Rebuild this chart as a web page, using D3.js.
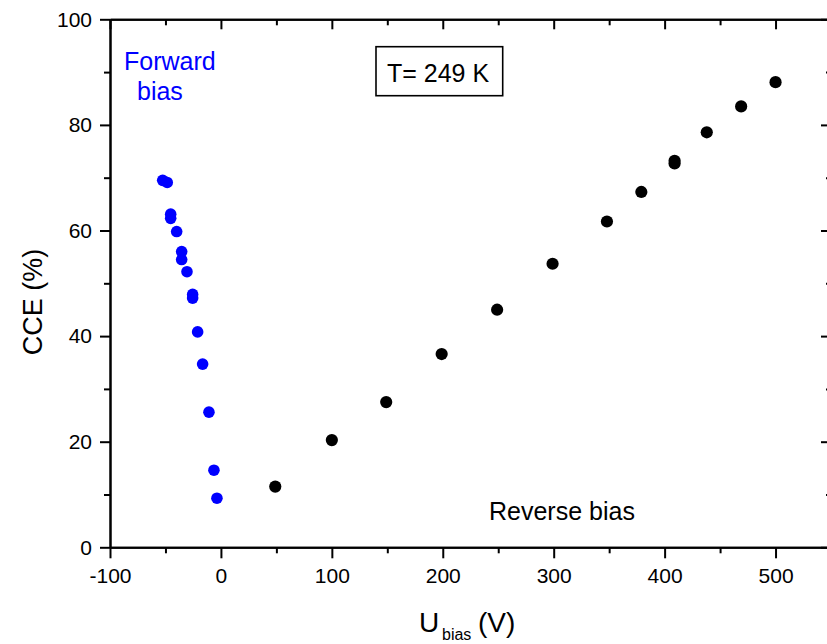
<!DOCTYPE html>
<html>
<head>
<meta charset="utf-8">
<script src="https://cdn.jsdelivr.net/npm/d3@7"></script>
<style>
  html, body { margin: 0; padding: 0; background: #fff; }
  svg { display: block; font-family: "Liberation Sans", Arial, sans-serif; }
</style>
</head>
<body>
<svg id="chart" width="827" height="644"></svg>
<script>
// Reverse bias (black)
const reverseU   = [49, 100, 149, 199, 249, 299, 348, 379, 409, 409, 438, 469, 500];
const reverseCCE = [11.5, 20.3, 27.5, 36.6, 45.0, 53.7, 61.7, 67.3, 72.7, 73.2, 78.6, 83.5, 88.1];
// Forward bias (blue)
const forwardU   = [-52.5, -48.4, -45.3, -45.3, -39.9, -35.4, -35.4, -30.6, -25.5, -25.5, -21, -16.5, -10.8, -6.3, -3.6];
const forwardCCE = [69.5, 69.1, 63.1, 62.3, 59.8, 56.0, 54.5, 52.2, 47.9, 47.2, 40.8, 34.7, 25.6, 14.6, 9.3];

const xMajor = [-100, 0, 100, 200, 300, 400, 500];
const xMinor = [-50, 50, 150, 250, 350, 450, 550];
const yMajor = [0, 20, 40, 60, 80, 100];
const yMinor = [10, 30, 50, 70, 90];

const svg = d3.select("#chart");
const L = 110, R = 831, T = 19.3, B = 547.3;

const x = d3.scaleLinear().domain([-100, 550]).range([L, R]);
const y = d3.scaleLinear().domain([0, 100]).range([B, T]);
const fmt = d => String(d);

function styleAxis(g) {
  g.selectAll("path.domain").attr("stroke", "#000").attr("stroke-width", 2);
  g.selectAll(".tick line").attr("stroke", "#000").attr("stroke-width", 2);
  g.selectAll(".tick text").attr("fill", "#000").style("font-size", "21px")
    .style("font-family", "'Liberation Sans', Arial, sans-serif");
}

// bottom
svg.append("g").attr("transform", `translate(0,${B})`)
  .call(d3.axisBottom(x).tickValues(xMajor).tickFormat(fmt).tickSize(11).tickPadding(10).tickSizeOuter(0))
  .call(styleAxis);
svg.append("g").attr("transform", `translate(0,${B})`)
  .call(d3.axisBottom(x).tickValues(xMinor).tickSize(6).tickFormat("").tickSizeOuter(0))
  .call(styleAxis);
// top
svg.append("g").attr("transform", `translate(0,${T})`)
  .call(d3.axisBottom(x).tickValues(xMajor).tickSize(10).tickFormat("").tickSizeOuter(0))
  .call(styleAxis);
svg.append("g").attr("transform", `translate(0,${T})`)
  .call(d3.axisBottom(x).tickValues(xMinor).tickSize(6).tickFormat("").tickSizeOuter(0))
  .call(styleAxis);
// left
svg.append("g").attr("transform", `translate(${L},0)`)
  .call(d3.axisLeft(y).tickValues(yMajor).tickFormat(fmt).tickSize(10).tickPadding(8).tickSizeOuter(0))
  .call(styleAxis);
svg.append("g").attr("transform", `translate(${L},0)`)
  .call(d3.axisLeft(y).tickValues(yMinor).tickSize(6).tickFormat("").tickSizeOuter(0))
  .call(styleAxis);
// right
svg.append("g").attr("transform", `translate(${R},0)`)
  .call(d3.axisLeft(y).tickValues(yMajor).tickSize(10).tickFormat("").tickSizeOuter(0))
  .call(styleAxis);
svg.append("g").attr("transform", `translate(${R},0)`)
  .call(d3.axisLeft(y).tickValues(yMinor).tickSize(5).tickFormat("").tickSizeOuter(0))
  .call(styleAxis);

// points
svg.append("g").selectAll("circle")
  .data(reverseU.map((u, i) => [u, reverseCCE[i]]))
  .join("circle")
  .attr("cx", d => x(d[0])).attr("cy", d => y(d[1])).attr("r", 6.1)
  .attr("fill", "#000");

svg.append("g").selectAll("circle")
  .data(forwardU.map((u, i) => [u, forwardCCE[i]]))
  .join("circle")
  .attr("cx", d => x(d[0])).attr("cy", d => y(d[1])).attr("r", 5.8)
  .attr("fill", "#0000ff");

// annotations
svg.append("text").attr("x", 124).attr("y", 70).attr("fill", "#0000ff")
  .style("font-size", "25px").text("Forward");
svg.append("text").attr("x", 137).attr("y", 100).attr("fill", "#0000ff")
  .style("font-size", "25px").text("bias");
svg.append("text").attr("x", 489).attr("y", 520).attr("fill", "#000")
  .style("font-size", "25px").text("Reverse bias");

svg.append("rect").attr("x", 376).attr("y", 46.7).attr("width", 126.7).attr("height", 49)
  .attr("fill", "none").attr("stroke", "#000").attr("stroke-width", 1.6);
svg.append("text").attr("x", 387).attr("y", 81.5).attr("fill", "#000")
  .style("font-size", "25px").text("T= 249 K");

// axis titles
svg.append("text").attr("transform", "translate(42,302) rotate(-90)")
  .attr("text-anchor", "middle").attr("fill", "#000")
  .style("font-size", "27px").text("CCE (%)");

svg.append("text").attr("x", 419).attr("y", 632).attr("fill", "#000")
  .style("font-size", "28px").text("U");
svg.append("text").attr("x", 442).attr("y", 640).attr("fill", "#000")
  .style("font-size", "16px").text("bias");
svg.append("text").attr("x", 478).attr("y", 632).attr("fill", "#000")
  .style("font-size", "28px").text("(V)");
</script>
</body>
</html>
